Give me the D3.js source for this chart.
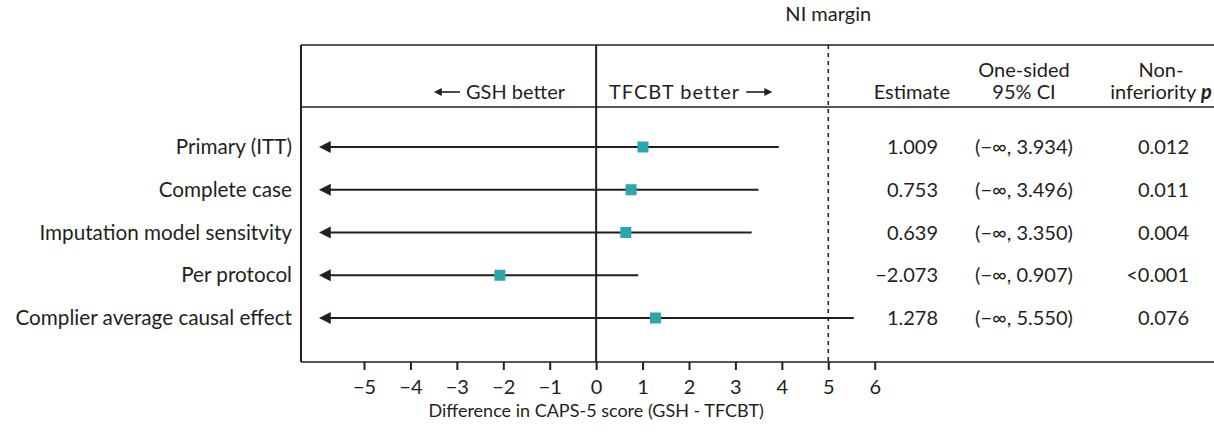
<!DOCTYPE html>
<html><head><meta charset="utf-8">
<script src="https://cdn.jsdelivr.net/npm/d3@7"></script>
<style>
body{margin:0;background:#fff;}
text{font-family:Lato,"Noto Sans",sans-serif;fill:#231f20;}
</style></head>
<body><svg id="c" width="1214" height="441"></svg>
<script>
const analyses = ["Primary (ITT)","Complete case","Imputation model sensitvity","Per protocol","Complier average causal effect"];
const estimates = [1.009, 0.753, 0.639, -2.073, 1.278];
const upperCI = [3.934, 3.496, 3.350, 0.907, 5.550];
const estimateLabels = ["1.009","0.753","0.639","\u22122.073","1.278"];
const ciLabels = ["(\u2212\u221e, 3.934)","(\u2212\u221e, 3.496)","(\u2212\u221e, 3.350)","(\u2212\u221e, 0.907)","(\u2212\u221e, 5.550)"];
const pLabels = ["0.012","0.011","0.004","<0.001","0.076"];
const xTicks = [-5,-4,-3,-2,-1,0,1,2,3,4,5,6];
const niMargin = 5;
const arrowLimit = -6;

const FS = 20;
const svg = d3.select("#c");
const ink = "#231f20", teal = "#2aa8ad";
const x = d3.scaleLinear().domain([-5, 6]).range([364, 874.7]);
const y = d3.scalePoint().domain(analyses).range([147, 318]);
const yTop = 45, yHdr = 107, yBot = 362, xLeft = 301, xRight = 1214;

const defs = svg.append("defs");
defs.append("marker").attr("id","ah").attr("viewBox","0 0 10 10")
  .attr("refX",1).attr("refY",5).attr("markerWidth",9).attr("markerHeight",8)
  .attr("markerUnits","userSpaceOnUse").attr("orient","auto")
  .append("path").attr("d","M0,0L10,5L0,10Z").attr("fill",ink);
defs.append("marker").attr("id","big").attr("viewBox","0 0 10 10")
  .attr("refX",1).attr("refY",5).attr("markerWidth",12).attr("markerHeight",14)
  .attr("markerUnits","userSpaceOnUse").attr("orient","auto")
  .append("path").attr("d","M0,0L10,5L0,10Z").attr("fill",ink);

// frame
[yTop,yHdr,yBot].forEach(yy=>svg.append("line").attr("x1",xLeft).attr("x2",xRight).attr("y1",yy).attr("y2",yy)
  .attr("stroke",ink).attr("stroke-width",1.6));
svg.append("line").attr("x1",xLeft).attr("x2",xLeft).attr("y1",yTop).attr("y2",yBot).attr("stroke",ink).attr("stroke-width",2);
svg.append("line").attr("x1",x(0)).attr("x2",x(0)).attr("y1",yTop).attr("y2",yBot).attr("stroke",ink).attr("stroke-width",2);
svg.append("line").attr("x1",x(niMargin)).attr("x2",x(niMargin)).attr("y1",yTop).attr("y2",yBot)
  .attr("stroke",ink).attr("stroke-width",1.6).attr("stroke-dasharray","4,4");
svg.append("text").attr("x",x(niMargin)).attr("y",21).attr("text-anchor","middle").attr("font-size",FS).text("NI margin");

// axis
const ax = svg.append("g").attr("transform",`translate(0,${yBot})`)
  .call(d3.axisBottom(x).tickValues(xTicks).tickSize(8).tickPadding(10).tickFormat(d=>d<0?"\u2212"+Math.abs(d):d));
ax.select(".domain").remove();
ax.selectAll(".tick line").attr("stroke",ink).attr("stroke-width",2);
ax.selectAll(".tick text").attr("font-size",FS).attr("font-family","Lato").attr("fill",ink);
svg.append("text").attr("x",x(0)).attr("y",417).attr("text-anchor","middle").attr("font-size",18)
  .text("Difference in CAPS-5 score (GSH - TFCBT)");

// header arrows
const g1 = svg.append("text").attr("x",565).attr("y",99).attr("text-anchor","end").attr("font-size",FS).text("GSH better");
const g1x = 565 - g1.node().getComputedTextLength();
svg.append("line").attr("x1",g1x-6).attr("x2",g1x-25).attr("y1",92).attr("y2",92).attr("stroke",ink).attr("stroke-width",1.6).attr("marker-end","url(#ah)");
const g2 = svg.append("text").attr("x",609).attr("y",99).attr("text-anchor","start").attr("font-size",FS)
  .attr("letter-spacing",1).text("TFCBT better");
const g2x = 609 + g2.node().getComputedTextLength();
svg.append("line").attr("x1",g2x+6).attr("x2",g2x+25).attr("y1",92).attr("y2",92).attr("stroke",ink).attr("stroke-width",1.6).attr("marker-end","url(#ah)");

// table headers
svg.append("text").attr("x",950).attr("y",99).attr("text-anchor","end").attr("font-size",FS).text("Estimate");
svg.append("text").attr("x",1024).attr("y",77).attr("text-anchor","middle").attr("font-size",FS).text("One-sided");
svg.append("text").attr("x",1024).attr("y",99).attr("text-anchor","middle").attr("font-size",FS).text("95% CI");
svg.append("text").attr("x",1161).attr("y",77).attr("text-anchor","middle").attr("font-size",FS).text("Non-");
const ih = svg.append("text").attr("x",1161).attr("y",99).attr("text-anchor","middle").attr("font-size",FS);
ih.append("tspan").text("inferiority ");
ih.append("tspan").attr("font-style","italic").attr("font-weight","bold").text("p");

// rows
const rows = svg.selectAll("g.row").data(analyses).join("g").attr("class","row");
rows.append("text").attr("x",292).attr("y",d=>y(d)+7).attr("text-anchor","end").attr("font-size",20.7).text(d=>d);
rows.append("line").attr("x1",(d,i)=>x(upperCI[i])).attr("x2",x(arrowLimit)+12).attr("y1",d=>y(d)).attr("y2",d=>y(d))
  .attr("stroke",ink).attr("stroke-width",2).attr("marker-end","url(#big)");
rows.append("rect").attr("x",(d,i)=>x(estimates[i])-5.5).attr("y",d=>y(d)-5.5).attr("width",11).attr("height",11).attr("fill",teal);
rows.append("text").attr("x",938).attr("y",d=>y(d)+7).attr("text-anchor","end").attr("font-size",FS).text((d,i)=>estimateLabels[i]);
rows.append("text").attr("x",1024).attr("y",d=>y(d)+7).attr("text-anchor","middle").attr("font-size",FS).text((d,i)=>ciLabels[i]);
rows.append("text").attr("x",1189).attr("y",d=>y(d)+7).attr("text-anchor","end").attr("font-size",FS).text((d,i)=>pLabels[i]);
</script></body></html>
